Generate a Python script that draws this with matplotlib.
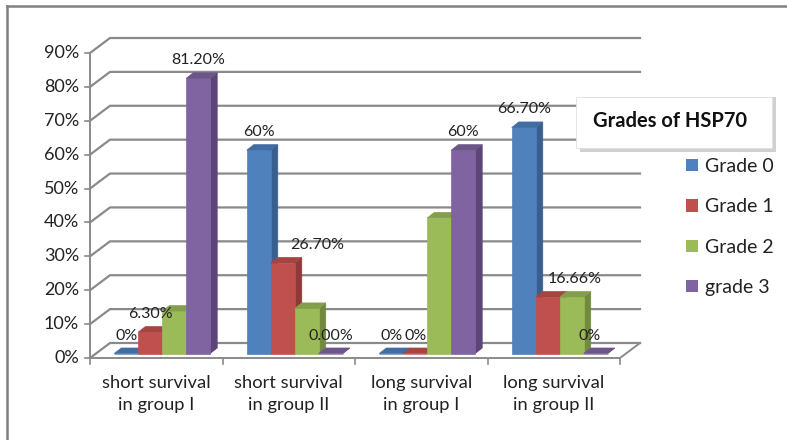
import matplotlib
matplotlib.use("Agg")
import matplotlib.pyplot as plt
from matplotlib.patches import Polygon, Rectangle
from matplotlib.lines import Line2D
import numpy as np

plt.rcParams['font.family'] = ['Lato', 'DejaVu Sans']

categories = ["short survival\nin group I", "short survival\nin group II",
              "long survival\nin group I", "long survival\nin group II"]
series_names = ["Grade 0", "Grade 1", "Grade 2", "grade 3"]
grade0 = [0, 60, 0, 66.7]
grade1 = [6.3, 26.7, 0, 16.66]
grade2 = [12.5, 13.3, 40, 16.66]
grade3 = [81.2, 0, 60, 0]
labels0 = ["0%", "60%", "0%", "66.70%"]
labels1 = ["6.30%", "26.70%", "0%", None]
labels2 = [None, None, None, "16.66%"]
labels3 = ["81.20%", "0.00%", "60%", "0%"]
yticks = list(range(0, 100, 10))
legend_title = "Grades of HSP70"

values = [grade0, grade1, grade2, grade3]
labels = [labels0, labels1, labels2, labels3]
front_cols = ["#4F81BD", "#C0504D", "#9BBB59", "#8064A2"]
side_cols = ["#3A5F8E", "#8E3A38", "#728A40", "#5B4677"]
top_cols = ["#426DA2", "#A64441", "#849F4B", "#6C5589"]
label_dx = {(1, 1): 34, (3, 3): -6, (2, 3): 3}

W, H = 787, 440
fig = plt.figure(figsize=(W / 100, H / 100), dpi=100)
ax = fig.add_axes([90 / W, (H - 358) / H, 530 / W, 305 / H])
ax.set_xlim(-0.5, 3.5)
ax.set_ylim(0, 90)
ax.axis('off')
fig.canvas.draw()

T = ax.transData
def P(x, y, dx=0, dy=0):
    px, py = T.transform((x, y))
    return (px + dx, py + dy)

# depth offsets in pixels (dy positive = up in display coords)
DX, DY = 20, 15
grid_col = "#8A8A8A"

def dline(pts, **kw):
    xs, ys = zip(*pts)
    ax.add_artist(Line2D(xs, ys, transform=None, clip_on=False, **kw))

# back wall gridlines + side wall diagonals
for t in yticks:
    dline([P(-0.5, t), P(-0.5, t, DX, DY), P(3.5, t, DX, DY)], color=grid_col, lw=1.6, zorder=1)
    dline([P(-0.5, t, -5, 0), P(-0.5, t)], color=grid_col, lw=1.2, zorder=1)
dline([P(-0.5, 0), P(-0.5, 90)], color=grid_col, lw=1.4, zorder=1)
dline([P(-0.5, 0), P(3.5, 0)], color=grid_col, lw=1.4, zorder=1)
dline([P(3.5, 0), P(3.5, 0, DX, DY)], color=grid_col, lw=1.4, zorder=1)
for b in np.arange(-0.5, 3.6, 1.0):
    dline([P(b, 0), P(b, 0, 0, -6)], color=grid_col, lw=1.2, zorder=1)

# y tick labels
for t in yticks:
    ax.annotate(f"{t}%", xy=(-0.5, t), xytext=(-11, 0), textcoords='offset pixels',
                ha='right', va='center', fontsize=13, color='#222222', annotation_clip=False)
# category labels
for i, c in enumerate(categories):
    ax.annotate(c, xy=(i, 0), xytext=(0, -17), textcoords='offset pixels',
                ha='center', va='top', fontsize=13.2, color='#222222',
                linespacing=1.45, annotation_clip=False)

# bars
w = 0.181
bdx, bdy = 6, 4.5     # bar position in depth
sdx, sdy = 7, 5.5     # bar thickness in depth
for j in range(4):
    for i in range(4):
        v = values[j][i]
        x0 = i + (j - 1.5) * w - w / 2
        x1 = x0 + w
        fl = P(x0, 0, bdx, bdy)
        fr = P(x1, 0, bdx, bdy)
        tl = P(x0, v, bdx, bdy)
        tr = P(x1, v, bdx, bdy)
        front = [fl, fr, tr, tl]
        side = [fr, (fr[0] + sdx, fr[1] + sdy), (tr[0] + sdx, tr[1] + sdy), tr]
        top = [tl, tr, (tr[0] + sdx, tr[1] + sdy), (tl[0] + sdx, tl[1] + sdy)]
        for poly, col in ((side, side_cols[j]), (front, front_cols[j]), (top, top_cols[j])):
            ax.add_patch(Polygon(poly, closed=True, transform=None, facecolor=col,
                                 edgecolor=col, lw=0.5, zorder=3 + i * 0.01, clip_on=False))
        lab = labels[j][i]
        if lab:
            ax.annotate(lab, xy=((x0 + x1) / 2, v), xytext=(bdx + label_dx.get((j, i), 0), bdy + 11),
                        textcoords='offset pixels', ha='center', va='bottom',
                        fontsize=11.5, color='#222222', annotation_clip=False, zorder=6)

# legend title box with shadow
def fx(px):
    return px / W
def fy(py):
    return 1 - py / H
fig.add_artist(Rectangle((fx(580), fy(152)), (772 - 576) / W, (152 - 97) / H,
                         transform=fig.transFigure, facecolor="#D0D0D0", edgecolor='none', zorder=6))
fig.add_artist(Rectangle((fx(576), fy(148)), (772 - 576) / W, (148 - 97) / H,
                         transform=fig.transFigure, facecolor="white", edgecolor="#E0E0E0", lw=0.6, zorder=7))
fig.text(fx(670), fy(121), legend_title, ha='center', va='center', fontsize=14.5,
         fontweight='bold', color='#111111', zorder=8)

handles = [Rectangle((0, 0), 1, 1, facecolor=c, edgecolor='none') for c in front_cols]
leg = fig.legend(handles, series_names, loc='upper left', bbox_to_anchor=(fx(682), fy(154)),
                 frameon=False, fontsize=14, handlelength=0.6, handleheight=0.6,
                 handletextpad=0.4, labelspacing=1.2, borderpad=0.2, borderaxespad=0)
for t in leg.get_texts():
    t.set_color('#222222')

# outer border (left and top)
fig.add_artist(Line2D([fx(7), fx(7)], [0, fy(6)], transform=fig.transFigure, color="#808080", lw=1.8))
fig.add_artist(Line2D([fx(7), 1], [fy(6), fy(6)], transform=fig.transFigure, color="#808080", lw=1.8))

fig.savefig("out.png", dpi=100, facecolor='white')
